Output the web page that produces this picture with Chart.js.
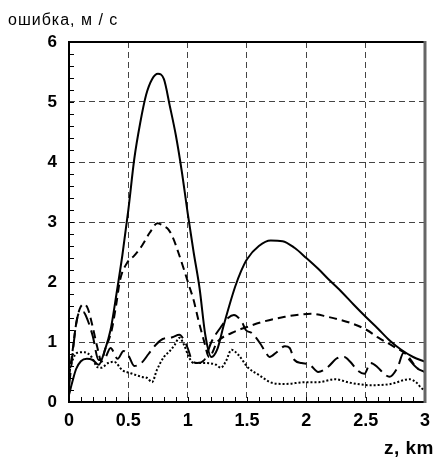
<!DOCTYPE html>
<html>
<head>
<meta charset="utf-8">
<script src="https://cdn.jsdelivr.net/npm/chart.js@4.4.0/dist/chart.umd.min.js"></script>
<style>
  html, body { margin:0; padding:0; background:#fff; }
</style>
</head>
<body>
<canvas id="chart" width="438" height="459"></canvas>
<script>
// axis labels
const yTitle = "ошибка, м / с";
const xTitle = "z, km";

// solid curve
const zSolid = [0, 0.03, 0.06, 0.1, 0.15, 0.2, 0.25, 0.3, 0.35, 0.4, 0.45, 0.5, 0.55, 0.6, 0.65, 0.7, 0.75, 0.8, 0.85, 0.9, 0.95, 1.0, 1.05, 1.1, 1.15, 1.2, 1.25, 1.3, 1.35, 1.4, 1.45, 1.5, 1.6, 1.7, 1.8, 1.9, 2.0, 2.1, 2.2, 2.3, 2.4, 2.5, 2.6, 2.7, 2.8, 2.9, 3.0];
const vSolid = [0.12, 0.35, 0.55, 0.68, 0.72, 0.7, 0.62, 0.85, 1.2, 1.8, 2.45, 3.2, 4.05, 4.65, 5.12, 5.38, 5.47, 5.38, 4.93, 4.45, 3.85, 3.15, 2.5, 1.9, 1.1, 0.75, 0.88, 1.25, 1.6, 1.92, 2.18, 2.38, 2.6, 2.69, 2.68, 2.57, 2.4, 2.22, 2.02, 1.83, 1.62, 1.42, 1.23, 1.03, 0.87, 0.75, 0.67];

// medium dash curve
const zDash = [0, 0.03, 0.06, 0.09, 0.125, 0.16, 0.2, 0.24, 0.275, 0.3, 0.36, 0.4, 0.43, 0.49, 0.55, 0.62, 0.68, 0.745, 0.8, 0.84, 0.88, 0.92, 0.97, 1.01, 1.05, 1.09, 1.14, 1.18, 1.25, 1.37, 1.5, 1.62, 1.82, 2.04, 2.18, 2.37, 2.51, 2.6, 2.74, 2.85, 2.93, 3.0];
const vDash = [0.42, 0.85, 1.3, 1.55, 1.63, 1.55, 1.25, 0.9, 0.67, 0.85, 1.2, 1.65, 2.03, 2.32, 2.44, 2.62, 2.82, 2.98, 2.93, 2.87, 2.72, 2.5, 2.2, 1.95, 1.7, 1.37, 1.0, 0.75, 1.0, 1.15, 1.25, 1.33, 1.42, 1.47, 1.42, 1.32, 1.2, 1.08, 0.92, 0.78, 0.57, 0.5];

// long dash curve
const zLong = [0, 0.03, 0.06, 0.09, 0.12, 0.16, 0.2, 0.25, 0.3, 0.35, 0.41, 0.46, 0.5, 0.55, 0.61, 0.67, 0.73, 0.79, 0.87, 0.93, 0.97, 1.0, 1.04, 1.08, 1.14, 1.2, 1.28, 1.34, 1.39, 1.46, 1.49, 1.54, 1.61, 1.66, 1.69, 1.75, 1.82, 1.86, 1.9, 1.96, 2.03, 2.1, 2.18, 2.26, 2.32, 2.37, 2.43, 2.49, 2.54, 2.6, 2.65, 2.7, 2.77, 2.82, 2.87, 2.93, 3.0];
const vLong = [0.25, 0.8, 1.3, 1.5, 1.5, 1.35, 1.1, 0.7, 0.72, 0.9, 0.72, 0.85, 0.78, 0.6, 0.65, 0.8, 0.95, 1.05, 1.08, 1.12, 1.03, 0.9, 0.68, 0.65, 0.7, 1.0, 1.25, 1.4, 1.45, 1.32, 1.2, 1.15, 0.98, 0.82, 0.75, 0.83, 0.93, 0.9, 0.7, 0.65, 0.62, 0.5, 0.58, 0.73, 0.75, 0.67, 0.53, 0.47, 0.65, 0.58, 0.48, 0.42, 0.58, 0.82, 0.7, 0.57, 0.5];

// dotted curve
const zDot = [0, 0.03, 0.07, 0.13, 0.19, 0.24, 0.27, 0.33, 0.38, 0.45, 0.52, 0.61, 0.66, 0.7, 0.74, 0.8, 0.85, 0.89, 0.93, 0.97, 1.01, 1.05, 1.1, 1.15, 1.24, 1.28, 1.32, 1.37, 1.43, 1.51, 1.6, 1.71, 1.82, 1.99, 2.1, 2.24, 2.37, 2.54, 2.71, 2.87, 2.93, 2.97, 3.0];
const vDot = [0.5, 0.7, 0.82, 0.83, 0.75, 0.58, 0.57, 0.65, 0.67, 0.53, 0.48, 0.42, 0.4, 0.33, 0.53, 0.75, 0.85, 0.95, 1.07, 0.95, 0.75, 0.65, 0.65, 0.65, 0.62, 0.57, 0.67, 0.87, 0.78, 0.57, 0.45, 0.32, 0.3, 0.33, 0.33, 0.38, 0.32, 0.28, 0.3, 0.38, 0.32, 0.23, 0.2];

const pts = (zs, vs) => zs.map((z, i) => ({ x: z, y: vs[i] }));

function line(zs, vs, dash, width){
  return {
    data: pts(zs, vs),
    borderColor: '#000',
    borderWidth: width,
    borderDash: dash,
    pointRadius: 0,
    showLine: true,
    fill: false,
    cubicInterpolationMode: 'monotone'
  };
}

// frame, inner minor ticks and the two axis titles
const framePlugin = {
  id: 'frame',
  afterDatasetsDraw(chart){
    const ctx = chart.ctx;
    const a = chart.chartArea;
    const xs = chart.scales.x, ys = chart.scales.y;
    ctx.save();
    ctx.strokeStyle = '#000';
    ctx.lineWidth = 1;
    // minor ticks
    ctx.beginPath();
    for(let i = 1; i < 30; i++){
      const px = Math.round(xs.getPixelForValue(i / 10)) + 0.5;
      ctx.moveTo(px, a.bottom); ctx.lineTo(px, a.bottom - 5);
    }
    for(let i = 1; i < 30; i++){
      const py = Math.round(ys.getPixelForValue(i / 5)) + 0.5;
      ctx.moveTo(a.left, py); ctx.lineTo(a.left + 5, py);
    }
    ctx.stroke();
    // frame
    ctx.lineWidth = 2;
    ctx.beginPath();
    ctx.moveTo(a.right, a.top); ctx.lineTo(a.left, a.top);
    ctx.lineTo(a.left, a.bottom); ctx.lineTo(a.right, a.bottom);
    ctx.stroke();
    ctx.strokeStyle = '#666';
    ctx.lineWidth = 3;
    ctx.beginPath();
    ctx.moveTo(a.right, a.top - 1); ctx.lineTo(a.right, a.bottom + 1);
    ctx.stroke();
    // titles
    ctx.fillStyle = '#000';
    ctx.textBaseline = 'alphabetic';
    ctx.textAlign = 'left';
    ctx.font = '16px "Liberation Sans", Arial, sans-serif';
    ctx.letterSpacing = '1px';
    ctx.fillText(yTitle, 8, 25);
    ctx.textAlign = 'right';
    ctx.font = 'bold 19px "Liberation Sans", Arial, sans-serif';
    ctx.letterSpacing = '0.5px';
    ctx.fillText(xTitle, 434, 454);
    ctx.restore();
  }
};

new Chart(document.getElementById('chart'), {
  type: 'scatter',
  data: {
    datasets: [
      line(zSolid, vSolid, [], 2),
      line(zDash, vDash, [8, 5], 2),
      line(zLong, vLong, [14, 6], 2),
      line(zDot, vDot, [2, 2], 2)
    ]
  },
  options: {
    responsive: false,
    animation: false,
    layout: { padding: { top: 42, right: 10, left: 0, bottom: 0 } },
    plugins: { legend: { display: false }, tooltip: { enabled: false } },
    scales: {
      x: {
        type: 'linear', min: 0, max: 3,
        ticks: {
          stepSize: 0.5, padding: 8, color: '#000',
          font: { family: '"Liberation Sans", Arial', size: 18, weight: 'bold' },
          callback: v => String(Number(v))
        },
        grid: { color: '#444', lineWidth: 1, drawTicks: false },
        border: { display: false, dash: [6, 4] },
        afterFit: s => { s.height = 57; }
      },
      y: {
        min: 0, max: 6,
        ticks: {
          stepSize: 1, padding: 12, color: '#000',
          font: { family: '"Liberation Sans", Arial', size: 17, weight: 'bold' }
        },
        grid: { color: '#444', lineWidth: 1, drawTicks: false },
        border: { display: false, dash: [6, 4] },
        afterFit: s => { s.width = 69; }
      }
    }
  },
  plugins: [framePlugin]
});
</script>
</body>
</html>
